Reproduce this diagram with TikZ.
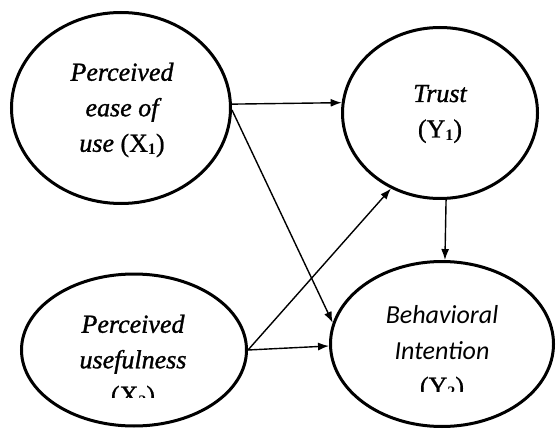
\documentclass[tikz,border=0pt]{standalone}
\usepackage{fontspec}
\setmainfont{Liberation Serif}[FakeBold=0.8]
\newfontfamily\tit{Liberation Serif Italic}[FakeBold=1.2]
\newfontfamily\tbf{Liberation Serif Bold}
\newfontfamily\carl{Carlito Italic}
\usetikzlibrary{shapes.geometric,arrows.meta}
\newcommand\subsc[1]{\raisebox{-3pt}{\fontsize{16}{16}\selectfont\tbf #1}}
\begin{document}
\begin{tikzpicture}[x=1pt,y=-1pt,
  latent/.style={ellipse,draw,line width=3pt,inner sep=0pt},
  lbl/.style={align=center,inner sep=0pt,font=\fontsize{26}{35.5}\selectfont},
  pth/.style={line width=1.4pt,-{Latex[length=11pt,width=8pt]}}]
\useasboundingbox[fill=white] (0,0) rectangle (556,430);
% ellipses
\node[latent,minimum width=219pt,minimum height=191pt] (x1) at (121,108) {};
\node[latent,minimum width=195pt,minimum height=171pt] (trust) at (440,113) {};
\node[latent,minimum width=225pt,minimum height=152pt] (x2) at (134,350) {};
\node[latent,minimum width=223pt,minimum height=165pt] (bi) at (442,344) {};
% texts
\node[lbl] (tx1) at (122,110) {{\tit Perceived}\\{\tit ease of}\\{\tit use} (X\subsc{1})};
\node[lbl] (ttrust) at (440,114) {{\tit Trust}\\(Y\subsc{1})};
\begin{scope}
\clip (0,0) rectangle (556,397);
\node[lbl] (tx2) at (133,362) {{\tit Perceived}\\{\tit usefulness}\\(X\subsc{2})};
\end{scope}
\begin{scope}
\clip (0,0) rectangle (556,391);
\node[lbl] (tbi) at (442,353) {{\carl Behavioral}\\{\carl Intention}\\(Y\subsc{2})};
\end{scope}
% connectors
\draw[pth] (x1.2.6) -- (trust.174);
\draw[pth] (x1.-1) -- (bi.169);
\draw[pth] (x2.0) -- (trust.-123.5);
\draw[pth] (x2.0) -- (bi.-179);
\draw[pth] (trust.-86.5) -- (bi.88);
\end{tikzpicture}
\end{document}
